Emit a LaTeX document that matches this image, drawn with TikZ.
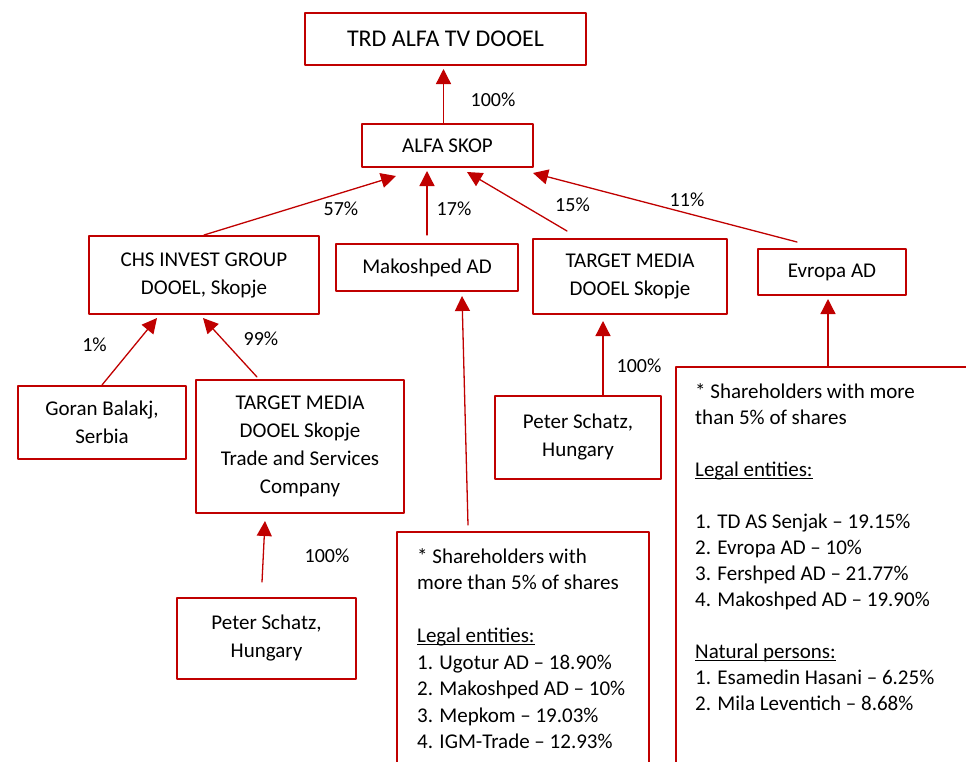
\documentclass[tikz,border=0pt]{standalone}
\usepackage{fontspec}
\setmainfont{Carlito}
\usepackage{xcolor}
\usetikzlibrary{arrows.meta}
\usetikzlibrary{calc}
\definecolor{boxred}{HTML}{C00000}
\newsavebox{\lnbox}
\newcommand{\lineunder}[1]{\sbox{\lnbox}{#1}\rlap{\rule[-2.5pt]{\wd\lnbox}{1.1pt}}\usebox{\lnbox}}

\begin{document}
\begin{tikzpicture}[line cap=round,line join=round,x=1pt,y=-1pt,
	box/.style={draw=boxred,line width=2pt,align=center,inner sep=0pt,font=\fontsize{21}{28}\selectfont},
	link/.style={draw=boxred,line width=1.3pt,-{Triangle[width=15pt,length=15pt]}},
	pct/.style={inner sep=0pt,font=\fontsize{20}{24}\selectfont},
	note/.style={align=left,anchor=north west,inner sep=0pt,font=\fontsize{21}{26.5}\selectfont}]
		\useasboundingbox (0,0) rectangle (966,761);
		\clip (0,0) rectangle (966,761);
		% owners, top to bottom
		\node[box,minimum width=281pt,minimum height=52pt,font=\fontsize{24}{29}\selectfont] (trd) at (445.5,39) {TRD ALFA TV DOOEL};
		\node[box,minimum width=171pt,minimum height=43pt] (alfa) at (447.5,145.5) {ALFA SKOP};
		\node[box,minimum width=230pt,minimum height=78pt] (chs) at (204,275) {CHS INVEST GROUP\\DOOEL, Skopje};
		\node[box,minimum width=182pt,minimum height=47pt] (mak) at (427,267.5) {Makoshped AD};
		\node[box,minimum width=194pt,minimum height=75pt] (tm) at (630,276.5) {TARGET MEDIA\\DOOEL Skopje};
		\node[box,minimum width=148pt,minimum height=46pt] (evr) at (832,272) {Evropa AD};
		\node[box,minimum width=168pt,minimum height=73pt] (gor) at (102,422.5) {Goran Balakj,\\Serbia};
		\node[box,minimum width=208pt,minimum height=133pt] (tmt) at (300,446.5) {TARGET MEDIA\\DOOEL Skopje\\Trade and Services\\Company};
		\node[box,minimum width=179pt,minimum height=81pt] (psl) at (266.5,638.5) {Peter Schatz,\\Hungary};
		\node[box,minimum width=166pt,minimum height=83pt] (psr) at (578,437.5) {Peter Schatz,\\Hungary};
		% shareholder lists
		\node[box,anchor=north west,minimum width=252pt,minimum height=260pt] (shm) at (396,531) {};
		\node[note] (shmtxt) at (417,548) {* Shareholders with\\more than 5\% of shares\\[26.5pt]\lineunder{Legal entities:}\\1. Ugotur AD -- 18.90\%\\2. Makoshped AD -- 10\%\\3. Mepkom -- 19.03\%\\4. IGM-Trade -- 12.93\%};
		\node[box,anchor=north west,minimum width=320pt,minimum height=420pt,line width=1.6pt] (she) at (675,366) {};
		\node[note,font=\fontsize{21}{26}\selectfont] (shetxt) at (695,383) {* Shareholders with more\\than 5\% of shares\\[26pt]\lineunder{Legal entities:}\\[26pt]1. TD AS Senjak -- 19.15\%\\2. Evropa AD -- 10\%\\3. Fershped AD -- 21.77\%\\4. Makoshped AD -- 19.90\%\\[26pt]\lineunder{Natural persons:}\\1. Esamedin Hasani -- 6.25\%\\2. Mila Leventich -- 8.68\%};
		% ownership arrows
		\draw[link] ($(alfa.north)+(-4,0)$) -- ($(trd.south)+(-2,3)$);
		\draw[link] (chs.north) -- ($(alfa.south west)+(35,8)$);
		\draw[link] ($(mak.north)+(0,-8)$) -- ($(alfa.south)+(-20.5,3)$);
		\draw[link] ($(tm.north west)+(35,-7)$) -- ($(alfa.south)+(19.5,4)$);
		\draw[link] ($(evr.north west)+(40,-6)$) -- ($(alfa.south east)+(-1,5)$);
		\draw[link] (gor.north) -- ($(chs.south)+(-47,3)$);
		\draw[link] ($(tmt.north west)+(62,-2)$) -- ($(chs.south)+(-1,3)$);
		\draw[link] ($(psl.north)+(-4.5,-15)$) -- ($(tmt.south)+(-35,7)$);
		\draw[link] ($(shm.north west)+(72,-6)$) -- ($(mak.south)+(35,4)$);
		\draw[link] ($(psr.north)+(25,0)$) -- ($(tm.south)+(-27,6)$);
		\draw[link] ($(she.north west)+(153,0)$) -- ($(evr.south)+(-4,3)$);
		% percentages
		\node[pct] (p100a) at (493,100) {100\%};
		\node[pct] (p57) at (341,209) {57\%};
		\node[pct] (p17) at (454,209) {17\%};
		\node[pct] (p15) at (572.5,205) {15\%};
		\node[pct] (p11) at (687,199.5) {11\%};
		\node[pct] (p1) at (94.5,345) {1\%};
		\node[pct] (p99) at (261,338.5) {99\%};
		\node[pct] (p100b) at (327,555.5) {100\%};
		\node[pct] (p100c) at (639,365.5) {100\%};
\end{tikzpicture}
\end{document}
